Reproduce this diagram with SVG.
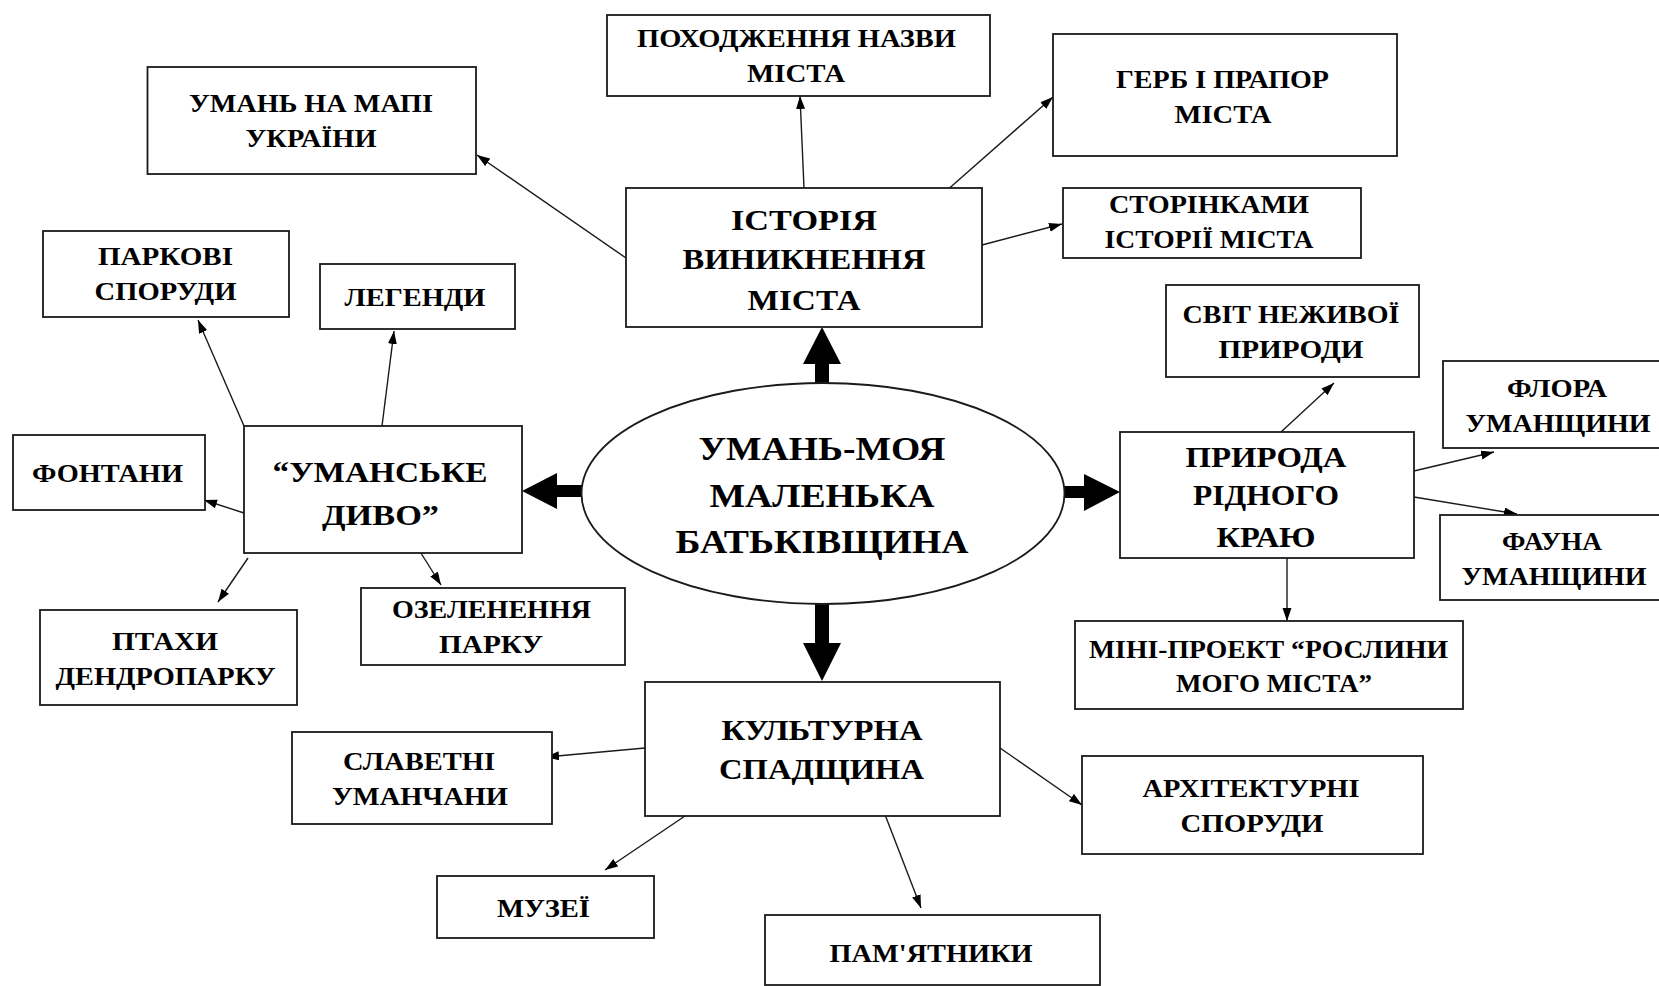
<svg xmlns="http://www.w3.org/2000/svg" width="1659" height="986" viewBox="0 0 1659 986">
<defs>
<style>
.box{fill:#fff;stroke:#1a1a1a;stroke-width:1.8}
.t{font-family:"Liberation Serif","Times New Roman",serif;font-weight:bold;fill:#000;text-anchor:middle}
.s{font-size:25px}
.m{font-size:30px}
.l{font-size:34px}
.c{stroke:#1a1a1a;stroke-width:1.4;fill:none;marker-end:url(#ah)}
.big{fill:#000}
</style>
<marker id="ah" markerUnits="userSpaceOnUse" markerWidth="14" markerHeight="10" refX="13" refY="4.5" orient="auto">
<path d="M0,0 L13,4.5 L0,9 z" fill="#000"/>
</marker>
</defs>
<rect width="1659" height="986" fill="#fff"/>
<g id="connectors">
<line class="c" x1="626" y1="258" x2="477" y2="155"/>
<line class="c" x1="804" y1="188" x2="800" y2="96"/>
<line class="c" x1="945" y1="192" x2="1053" y2="97"/>
<line class="c" x1="982" y1="245" x2="1062" y2="224"/>
<line class="c" x1="244" y1="426" x2="198" y2="320"/>
<line class="c" x1="382" y1="426" x2="394" y2="331"/>
<line class="c" x1="244" y1="513" x2="204" y2="500"/>
<line class="c" x1="248" y1="558" x2="218" y2="602"/>
<line class="c" x1="419" y1="550" x2="441" y2="585"/>
<line class="c" x1="1281" y1="432" x2="1334" y2="383"/>
<line class="c" x1="1414" y1="471" x2="1494" y2="452"/>
<line class="c" x1="1414" y1="497" x2="1517" y2="514"/>
<line class="c" x1="1287" y1="558" x2="1287" y2="621"/>
<line class="c" x1="645" y1="748" x2="546" y2="757"/>
<line class="c" x1="685" y1="816" x2="605" y2="870"/>
<line class="c" x1="1000" y1="748" x2="1082" y2="805"/>
<line class="c" x1="884" y1="812" x2="921" y2="908"/>
<polygon class="big" points="822,327 841,364 829,364 829,386 815,386 815,364 803,364"/>
<polygon class="big" points="822,681 841,643 829,643 829,600 815,600 815,643 803,643"/>
<polygon class="big" points="522,491 557,473 557,485 585,485 585,497 557,497 557,509"/>
<polygon class="big" points="1120,492 1084,474 1084,486 1060,486 1060,498 1084,498 1084,511"/>
</g>
<g id="center">
<ellipse class="box" cx="823" cy="493.5" rx="241.5" ry="110.5"/>
<text class="t l" x="822" y="460" textLength="247" lengthAdjust="spacingAndGlyphs">УМАНЬ-МОЯ</text>
<text class="t l" x="822" y="507" textLength="225" lengthAdjust="spacingAndGlyphs">МАЛЕНЬКА</text>
<text class="t l" x="822" y="553" textLength="293" lengthAdjust="spacingAndGlyphs">БАТЬКІВЩИНА</text>
</g>
<g id="istoriya">
<rect class="box" x="626" y="188" width="356" height="139"/>
<text class="t m" x="804" y="230" textLength="146" lengthAdjust="spacingAndGlyphs">ІСТОРІЯ</text>
<text class="t m" x="804" y="269" textLength="243" lengthAdjust="spacingAndGlyphs">ВИНИКНЕННЯ</text>
<text class="t m" x="804" y="310" textLength="113" lengthAdjust="spacingAndGlyphs">МІСТА</text>
</g>
<g id="uman-mapa">
<rect class="box" x="147.5" y="67" width="328.5" height="107"/>
<text class="t s" x="311" y="112" textLength="244" lengthAdjust="spacingAndGlyphs">УМАНЬ НА МАПІ</text>
<text class="t s" x="311" y="147" textLength="131" lengthAdjust="spacingAndGlyphs">УКРАЇНИ</text>
</g>
<g id="pokhodzhennya">
<rect class="box" x="607" y="15" width="383" height="81"/>
<text class="t s" x="796.5" y="47" textLength="319" lengthAdjust="spacingAndGlyphs">ПОХОДЖЕННЯ НАЗВИ</text>
<text class="t s" x="796" y="82" textLength="98" lengthAdjust="spacingAndGlyphs">МІСТА</text>
</g>
<g id="gerb">
<rect class="box" x="1053" y="34" width="344" height="122"/>
<text class="t s" x="1222.5" y="88" textLength="213" lengthAdjust="spacingAndGlyphs">ГЕРБ І ПРАПОР</text>
<text class="t s" x="1223" y="123" textLength="97" lengthAdjust="spacingAndGlyphs">МІСТА</text>
</g>
<g id="storinkamy">
<rect class="box" x="1063" y="188" width="298" height="70"/>
<text class="t s" x="1209" y="213" textLength="200" lengthAdjust="spacingAndGlyphs">СТОРІНКАМИ</text>
<text class="t s" x="1209" y="248" textLength="209" lengthAdjust="spacingAndGlyphs">ІСТОРІЇ МІСТА</text>
</g>
<g id="svit">
<rect class="box" x="1166" y="285" width="253" height="92"/>
<text class="t s" x="1291" y="323" textLength="217" lengthAdjust="spacingAndGlyphs">СВІТ НЕЖИВОЇ</text>
<text class="t s" x="1291" y="358" textLength="145" lengthAdjust="spacingAndGlyphs">ПРИРОДИ</text>
</g>
<g id="flora">
<rect class="box" x="1443" y="361" width="220" height="87"/>
<text class="t s" x="1557" y="397" textLength="100" lengthAdjust="spacingAndGlyphs">ФЛОРА</text>
<text class="t s" x="1558" y="432" textLength="185" lengthAdjust="spacingAndGlyphs">УМАНЩИНИ</text>
</g>
<g id="pryroda">
<rect class="box" x="1120" y="432" width="294" height="126"/>
<text class="t m" x="1266" y="467" textLength="161" lengthAdjust="spacingAndGlyphs">ПРИРОДА</text>
<text class="t m" x="1266" y="505" textLength="146" lengthAdjust="spacingAndGlyphs">РІДНОГО</text>
<text class="t m" x="1266" y="547" textLength="99" lengthAdjust="spacingAndGlyphs">КРАЮ</text>
</g>
<g id="fauna">
<rect class="box" x="1440" y="515" width="223" height="85"/>
<text class="t s" x="1552" y="550" textLength="100" lengthAdjust="spacingAndGlyphs">ФАУНА</text>
<text class="t s" x="1554" y="585" textLength="185" lengthAdjust="spacingAndGlyphs">УМАНЩИНИ</text>
</g>
<g id="mini-proekt">
<rect class="box" x="1075" y="621" width="388" height="88"/>
<text class="t s" x="1268.5" y="658" textLength="359" lengthAdjust="spacingAndGlyphs">МІНІ-ПРОЕКТ “РОСЛИНИ</text>
<text class="t s" x="1274" y="692" textLength="196" lengthAdjust="spacingAndGlyphs">МОГО МІСТА”</text>
</g>
<g id="parkovi">
<rect class="box" x="43" y="231" width="246" height="86"/>
<text class="t s" x="165.5" y="265" textLength="135" lengthAdjust="spacingAndGlyphs">ПАРКОВІ</text>
<text class="t s" x="165.5" y="300" textLength="142" lengthAdjust="spacingAndGlyphs">СПОРУДИ</text>
</g>
<g id="legendy">
<rect class="box" x="320" y="264" width="195" height="65"/>
<text class="t s" x="415" y="306" textLength="141" lengthAdjust="spacingAndGlyphs">ЛЕГЕНДИ</text>
</g>
<g id="fontany">
<rect class="box" x="13" y="435" width="192" height="75"/>
<text class="t s" x="107.5" y="482" textLength="151" lengthAdjust="spacingAndGlyphs">ФОНТАНИ</text>
</g>
<g id="umanske-dyvo">
<rect class="box" x="244" y="426" width="278" height="127"/>
<text class="t m" x="380" y="482" textLength="215" lengthAdjust="spacingAndGlyphs">“УМАНСЬКЕ</text>
<text class="t m" x="380.5" y="525" textLength="117" lengthAdjust="spacingAndGlyphs">ДИВО”</text>
</g>
<g id="ozelenennya">
<rect class="box" x="361" y="588" width="264" height="77"/>
<text class="t s" x="491.5" y="618" textLength="199" lengthAdjust="spacingAndGlyphs">ОЗЕЛЕНЕННЯ</text>
<text class="t s" x="491" y="653" textLength="104" lengthAdjust="spacingAndGlyphs">ПАРКУ</text>
</g>
<g id="ptakhy">
<rect class="box" x="40" y="610" width="257" height="95"/>
<text class="t s" x="165" y="650" textLength="106" lengthAdjust="spacingAndGlyphs">ПТАХИ</text>
<text class="t s" x="165.5" y="685" textLength="220" lengthAdjust="spacingAndGlyphs">ДЕНДРОПАРКУ</text>
</g>
<g id="kulturna">
<rect class="box" x="645" y="682" width="355" height="134"/>
<text class="t m" x="822" y="740" textLength="201" lengthAdjust="spacingAndGlyphs">КУЛЬТУРНА</text>
<text class="t m" x="821.5" y="779" textLength="205" lengthAdjust="spacingAndGlyphs">СПАДЩИНА</text>
</g>
<g id="slavetni">
<rect class="box" x="292" y="732" width="260" height="92"/>
<text class="t s" x="419" y="770" textLength="152" lengthAdjust="spacingAndGlyphs">СЛАВЕТНІ</text>
<text class="t s" x="420" y="805" textLength="176" lengthAdjust="spacingAndGlyphs">УМАНЧАНИ</text>
</g>
<g id="muzei">
<rect class="box" x="437" y="876" width="217" height="62"/>
<text class="t s" x="543.5" y="917" textLength="93" lengthAdjust="spacingAndGlyphs">МУЗЕЇ</text>
</g>
<g id="arkhitekturni">
<rect class="box" x="1082" y="756" width="341" height="98"/>
<text class="t s" x="1251" y="797" textLength="217" lengthAdjust="spacingAndGlyphs">АРХІТЕКТУРНІ</text>
<text class="t s" x="1252" y="832" textLength="143" lengthAdjust="spacingAndGlyphs">СПОРУДИ</text>
</g>
<g id="pamyatnyky">
<rect class="box" x="765" y="915" width="335" height="70"/>
<text class="t s" x="931" y="962" textLength="203" lengthAdjust="spacingAndGlyphs">ПАМ'ЯТНИКИ</text>
</g>
</svg>
